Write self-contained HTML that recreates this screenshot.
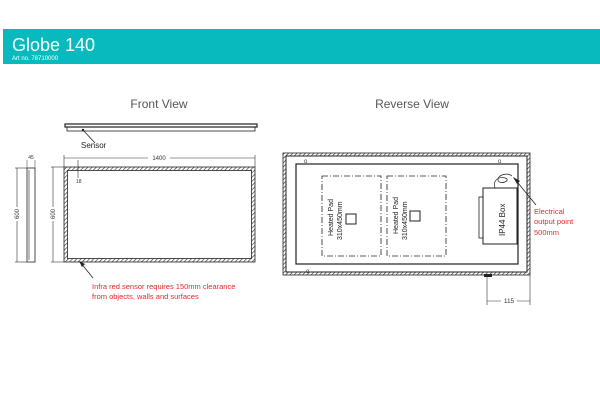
<!DOCTYPE html>
<html><head><style>
body{margin:0;background:#fff;width:600px;height:400px;overflow:hidden;font-family:"Liberation Sans",sans-serif}
</style></head><body>
<svg width="600" height="400" xmlns="http://www.w3.org/2000/svg" font-family="Liberation Sans, sans-serif">
<defs>
<pattern id="h" width="3" height="3" patternUnits="userSpaceOnUse" patternTransform="rotate(45)">
<rect width="3" height="3" fill="#fff"/><line x1="0" y1="0" x2="0" y2="3" stroke="#333" stroke-width="1.3"/></pattern>
</defs>
<rect x="3" y="29" width="597" height="35" fill="#08babd"/>
<text x="12" y="51" font-size="18" fill="#fff">Globe 140</text>
<text x="12" y="60" font-size="6" fill="#fff">Art no. 78710000</text>

<text x="159" y="108" font-size="12" fill="#555" text-anchor="middle">Front View</text>
<text x="412" y="108" font-size="12" fill="#555" text-anchor="middle">Reverse View</text>

<!-- top view bar -->
<rect x="65" y="124" width="192" height="3" fill="none" stroke="#222" stroke-width="1.2"/>
<rect x="67" y="127" width="188" height="4" fill="none" stroke="#222" stroke-width="0.8"/>
<line x1="83" y1="130" x2="95" y2="143" stroke="#222" stroke-width="0.8"/>
<circle cx="83" cy="130" r="1.2" fill="#222"/>
<text x="81" y="148" font-size="8" fill="#222">Sensor</text>

<!-- dim 1400 -->
<line x1="64" y1="158" x2="255" y2="158" stroke="#333" stroke-width="0.6"/>
<line x1="64" y1="155" x2="64" y2="167" stroke="#333" stroke-width="0.6"/>
<line x1="255" y1="155" x2="255" y2="167" stroke="#333" stroke-width="0.6"/>
<rect x="148" y="154" width="22" height="7" fill="#fff"/>
<text x="159" y="160" font-size="6" fill="#333" text-anchor="middle">1400</text>

<!-- front rect -->
<rect x="64" y="167" width="191" height="95" fill="url(#h)" stroke="#222" stroke-width="0.8"/>
<rect x="67.5" y="170.5" width="184" height="88" fill="#fff" stroke="#222" stroke-width="0.8"/>
<line x1="78" y1="160" x2="78" y2="178" stroke="#333" stroke-width="0.6"/>
<text x="76" y="183" font-size="5" fill="#333">18</text>
<!-- height dims -->
<line x1="53" y1="167" x2="53" y2="262" stroke="#333" stroke-width="0.6"/>
<line x1="51" y1="167" x2="64" y2="167" stroke="#333" stroke-width="0.6"/>
<line x1="51" y1="262" x2="64" y2="262" stroke="#333" stroke-width="0.6"/>
<rect x="49" y="207" width="8" height="14" fill="#fff"/>
<text x="55" y="214" font-size="6" fill="#333" text-anchor="middle" transform="rotate(-90 55 214)">600</text>

<!-- side view -->
<rect x="27" y="168" width="8" height="94" fill="none" stroke="#222" stroke-width="0.8"/>
<line x1="29" y1="170" x2="29" y2="260" stroke="#222" stroke-width="0.6"/>
<line x1="17" y1="168" x2="17" y2="262" stroke="#333" stroke-width="0.6"/>
<line x1="15" y1="168" x2="27" y2="168" stroke="#333" stroke-width="0.6"/>
<line x1="15" y1="262" x2="27" y2="262" stroke="#333" stroke-width="0.6"/>
<rect x="13" y="207" width="8" height="14" fill="#fff"/>
<text x="19" y="214" font-size="6" fill="#333" text-anchor="middle" transform="rotate(-90 19 214)">600</text>
<line x1="27" y1="160" x2="27" y2="168" stroke="#333" stroke-width="0.5"/>
<line x1="35" y1="160" x2="35" y2="168" stroke="#333" stroke-width="0.5"/>
<text x="31" y="159" font-size="5" fill="#333" text-anchor="middle">45</text>

<!-- sensor arrow -->
<line x1="80" y1="262" x2="93" y2="278" stroke="#222" stroke-width="0.8"/>
<polygon points="79,261 85,264 82,267" fill="#222"/>
<text x="92" y="289" font-size="7.5" fill="#e8262b">Infra red sensor requires 150mm clearance</text>
<text x="92" y="299" font-size="7.5" fill="#e8262b">from objects, walls and surfaces</text>

<!-- reverse -->
<rect x="283" y="153" width="247" height="122" fill="url(#h)" stroke="#222" stroke-width="0.8"/>
<rect x="286" y="156" width="241" height="116" fill="#fff" stroke="#222" stroke-width="1"/>
<rect x="296" y="164" width="222" height="100" fill="#fff" stroke="#222" stroke-width="1.2"/>
<text x="304" y="163" font-size="6" fill="#333">o</text>
<text x="498" y="163" font-size="6" fill="#333">o</text>
<text x="306" y="273" font-size="6" fill="#333">o</text>
<g fill="none" stroke="#222" stroke-width="0.8" stroke-dasharray="6,2,1,2">
<rect x="322" y="176" width="59" height="80"/>
<rect x="387" y="176" width="59" height="80"/>
</g>
<rect x="346" y="214" width="10" height="10" fill="none" stroke="#222" stroke-width="1"/>
<rect x="410" y="211" width="10" height="10" fill="none" stroke="#222" stroke-width="1"/>
<g font-size="7" fill="#222">
<text transform="translate(333 236) rotate(-90)">Heated Pad</text>
<text transform="translate(342 240) rotate(-90)">310x450mm</text>
<text transform="translate(398 234) rotate(-90)">Heated Pad</text>
<text transform="translate(407 240) rotate(-90)">310x450mm</text>
</g>
<rect x="483" y="188" width="34" height="56" fill="#fff" stroke="#222" stroke-width="1"/>
<rect x="479" y="197" width="4" height="41" fill="none" stroke="#222" stroke-width="0.8"/>
<text transform="translate(505 236) rotate(-90)" font-size="8" fill="#222">IP44 Box</text>
<path d="M495 188 C492 180,500 176,505 178 C512 180,500 186,498 180 C497 175,508 172,512 176" fill="none" stroke="#222" stroke-width="0.7"/>
<line x1="514" y1="178" x2="536" y2="205" stroke="#222" stroke-width="0.8"/>
<polygon points="513,177 520,181 517,184" fill="#222"/>
<g font-size="7.5" fill="#e8262b">
<text x="534" y="214">Electrical</text>
<text x="534" y="224">output point</text>
<text x="534" y="235">500mm</text>
</g>
<rect x="484" y="274" width="8" height="3" fill="#222"/>
<line x1="487" y1="276" x2="487" y2="305" stroke="#333" stroke-width="0.6"/>
<line x1="530" y1="275" x2="530" y2="305" stroke="#333" stroke-width="0.6"/>
<line x1="487" y1="301" x2="530" y2="301" stroke="#333" stroke-width="0.6"/>
<rect x="501" y="297" width="16" height="7" fill="#fff"/>
<text x="509" y="303" font-size="6.5" fill="#333" text-anchor="middle">115</text>
</svg>
</body></html>
